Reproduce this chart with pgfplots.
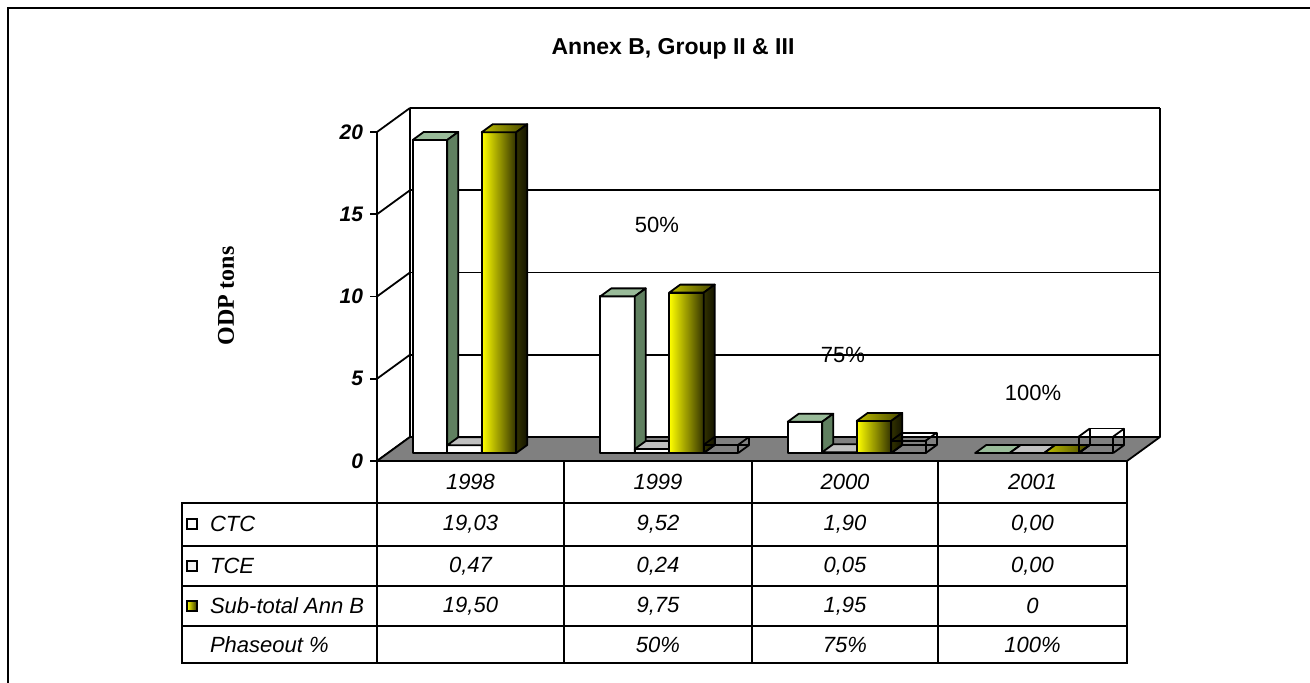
\documentclass[border=0pt]{standalone}
\usepackage{fontspec}
\setmainfont{Liberation Sans}
\newfontfamily\timesfont{Liberation Serif}
\usepackage{pgfplots}
\usepackage{pgfplotstable}
\pgfplotsset{compat=1.18}

\definecolor{ctcTop}{RGB}{153,187,153}
\definecolor{ctcSide}{RGB}{96,128,96}
\definecolor{tceTop}{RGB}{192,192,192}
\definecolor{tceSide}{RGB}{150,150,150}
\definecolor{subA}{RGB}{255,255,0}
\definecolor{subM}{RGB}{150,150,0}
\definecolor{subB}{RGB}{50,50,0}
\definecolor{subC}{RGB}{190,190,0}
\definecolor{subD}{RGB}{70,70,0}
\definecolor{subE}{RGB}{50,50,0}
\definecolor{subF}{RGB}{20,20,0}
\definecolor{floorgray}{RGB}{128,128,128}

% values of the chart (x = category index 1998..2001)
\pgfplotstableread{
x ctc tce sub pho
0 19.03 0.47 19.50 nan
1 9.52 0.24 9.75 0.50
2 1.90 0.05 1.95 0.75
3 0.00 0.00 0.00 1.00
}\datatable

\tikzset{
  ctcF/.style={fill=white},
  ctcT/.style={fill=ctcTop},
  ctcS/.style={fill=ctcSide},
  tceF/.style={fill=white},
  tceT/.style={fill=tceTop},
  tceS/.style={fill=tceSide},
  subF/.style={left color=subA,middle color=subM,right color=subB},
  subT/.style={left color=subC,right color=subD},
  subS/.style={left color=subE,right color=subF},
  edge/.style={draw=black,line width=0.9pt,line join=round},
}

% 3d column: #1 left x, #2 value, #3 front, #4 top, #5 side
\newcommand{\barthree}[5]{%
  \path[#3,edge] ([shift={(5.5pt,4pt)}]axis cs:#1,0) rectangle ([shift={(5.5pt,4pt)}]axis cs:{#1+0.184},#2);
  \path[#4,edge] ([shift={(5.5pt,4pt)}]axis cs:#1,#2) -- ([shift={(5.5pt,4pt)}]axis cs:{#1+0.184},#2)
     -- ([shift={(11pt,8pt)}]axis cs:{#1+0.184},#2) -- ([shift={(11pt,8pt)}]axis cs:#1,#2) -- cycle;
  \path[#5,edge] ([shift={(5.5pt,4pt)}]axis cs:{#1+0.184},0) -- ([shift={(5.5pt,4pt)}]axis cs:{#1+0.184},#2)
     -- ([shift={(11pt,8pt)}]axis cs:{#1+0.184},#2) -- ([shift={(11pt,8pt)}]axis cs:{#1+0.184},0) -- cycle;
}
% unfilled 3d column (wireframe)
\newcommand{\boxthree}[2]{%
  \path[edge] ([shift={(11pt,8pt)}]axis cs:#1,0) rectangle ([shift={(11pt,8pt)}]axis cs:{#1+0.184},#2);
  \path[edge] ([shift={(5.5pt,4pt)}]axis cs:#1,0) rectangle ([shift={(5.5pt,4pt)}]axis cs:{#1+0.184},#2);
  \path[edge] ([shift={(5.5pt,4pt)}]axis cs:#1,#2) -- ([shift={(11pt,8pt)}]axis cs:#1,#2);
  \path[edge] ([shift={(5.5pt,4pt)}]axis cs:{#1+0.184},#2) -- ([shift={(11pt,8pt)}]axis cs:{#1+0.184},#2);
  \path[edge] ([shift={(5.5pt,4pt)}]axis cs:#1,0) -- ([shift={(11pt,8pt)}]axis cs:#1,0);
  \path[edge] ([shift={(5.5pt,4pt)}]axis cs:{#1+0.184},0) -- ([shift={(11pt,8pt)}]axis cs:{#1+0.184},0);
}

% pixel position of the reference -> picture coordinates
\newcommand{\pp}[2]{({(#1-377)*0.5pt},{(461-#2)*0.5pt})}

\begin{document}
\begin{tikzpicture}[font=\fontsize{11}{13}\selectfont]
\useasboundingbox \pp{0}{0} rectangle \pp{1310}{683};

% frame
\draw[line width=1pt] \pp{8}{683} -- \pp{8}{8} -- \pp{1310}{8};

\node[font=\fontsize{11.5}{13}\selectfont\bfseries] at \pp{673}{49} {Annex B, Group II \& III};
\node[font=\fontsize{12}{14}\selectfont\timesfont\bfseries,rotate=90] at \pp{226}{296} {ODP tons};

\begin{axis}[
  at={(0,0)}, anchor=south west,
  scale only axis, width=375pt, height=164.5pt,
  xmin=0, xmax=4, ymin=0, ymax=20,
  clip=false,
  axis x line=none,
  axis y line*=left,
  y axis line style={line width=0.9pt},
  ytick={0,5,...,20},
  tick align=outside,
  major tick length=3.5pt,
  tick style={line width=0.9pt,black},
  yticklabel style={font=\fontsize{10.5}{12}\selectfont\bfseries\itshape},
  /pgf/number format/assume math mode=true,
]
% walls and grid
\pgfplotsinvokeforeach{0,5,10,15,20}{
  \draw[line width=0.9pt] ([shift={(16.5pt,12pt)}]axis cs:0,#1) -- ([shift={(16.5pt,12pt)}]axis cs:4,#1);
  \draw[line width=0.9pt] (axis cs:0,#1) -- ([shift={(16.5pt,12pt)}]axis cs:0,#1);
}
\draw[line width=0.9pt] ([shift={(16.5pt,12pt)}]axis cs:0,0) -- ([shift={(16.5pt,12pt)}]axis cs:0,20);
\draw[line width=0.9pt] ([shift={(16.5pt,12pt)}]axis cs:4,0) -- ([shift={(16.5pt,12pt)}]axis cs:4,20);
% floor
\path[fill=floorgray,edge] (axis cs:0,0) -- (axis cs:4,0) -- ([shift={(16.5pt,12pt)}]axis cs:4,0)
   -- ([shift={(16.5pt,12pt)}]axis cs:0,0) -- cycle;

% columns
\pgfplotsinvokeforeach{0,1,2,3}{
  \pgfplotstablegetelem{#1}{ctc}\of\datatable \let\va\pgfplotsretval
  \pgfplotstablegetelem{#1}{tce}\of\datatable \let\vb\pgfplotsretval
  \pgfplotstablegetelem{#1}{sub}\of\datatable \let\vc\pgfplotsretval
  \pgfmathsetmacro\xa{#1+0.132}
  \pgfmathsetmacro\xb{#1+0.316}
  \pgfmathsetmacro\xc{#1+0.500}
  \edef\cmd{\noexpand\barthree{\xa}{\va}{ctcF}{ctcT}{ctcS}%
    \noexpand\barthree{\xb}{\vb}{tceF}{tceT}{tceS}%
    \noexpand\barthree{\xc}{\vc}{subF}{subT}{subS}}
  \cmd
}
\pgfplotsinvokeforeach{1,2,3}{
  \pgfplotstablegetelem{#1}{pho}\of\datatable \let\vd\pgfplotsretval
  \pgfmathsetmacro\xd{#1+0.684}
  \edef\cmd{\noexpand\boxthree{\xd}{\vd}}
  \cmd
}
% phaseout data labels
\node at (axis cs:1.493,14.35) {50\%};
\node at (axis cs:2.485,6.44) {75\%};
\node at (axis cs:3.499,4.13) {100\%};
\end{axis}

% data table
\begin{scope}[line width=1pt]
\draw \pp{377}{461} -- \pp{377}{663};
\foreach \xx in {564,752,938,1127} {\draw \pp{\xx}{461} -- \pp{\xx}{663};}
\draw \pp{182}{503} rectangle \pp{1127}{663};
\end{scope}
\foreach \yy in {546,586,626} {\draw[line width=0.6pt] \pp{182}{\yy} -- \pp{1127}{\yy};}

\foreach \xx/\lab in {470.5/1998,658/1999,845/2000,1032.5/2001}
  {\node[font=\fontsize{11}{13}\selectfont\itshape] at \pp{\xx}{482} {\lab};}

\begin{scope}[font=\fontsize{11}{13}\selectfont\itshape]
\node[anchor=west] at \pp{203}{524} {CTC};
\node[anchor=west] at \pp{203}{566} {TCE};
\node[anchor=west] at \pp{203}{606} {Sub-total Ann B};
\node[anchor=west] at \pp{203}{645} {Phaseout \%};
\node at \pp{470.5}{524} {19,03}; \node at \pp{470.5}{566} {0,47}; \node at \pp{470.5}{606} {19,50};
\node at \pp{658}{524} {9,52}; \node at \pp{658}{566} {0,24}; \node at \pp{658}{606} {9,75}; \node at \pp{658}{645} {50\%};
\node at \pp{845}{524} {1,90}; \node at \pp{845}{566} {0,05}; \node at \pp{845}{606} {1,95}; \node at \pp{845}{645} {75\%};
\node at \pp{1032.5}{524} {0,00}; \node at \pp{1032.5}{566} {0,00}; \node at \pp{1032.5}{606} {0}; \node at \pp{1032.5}{645} {100\%};
\end{scope}
% legend keys
\draw[line width=0.8pt,fill=white] \pp{187}{519} rectangle \pp{197}{529};
\draw[line width=0.8pt,fill=black!5] \pp{187}{561} rectangle \pp{197}{571};
\draw[line width=0.8pt,left color=subA,right color=subB] \pp{187}{601} rectangle \pp{197}{611};
\end{tikzpicture}
\end{document}
